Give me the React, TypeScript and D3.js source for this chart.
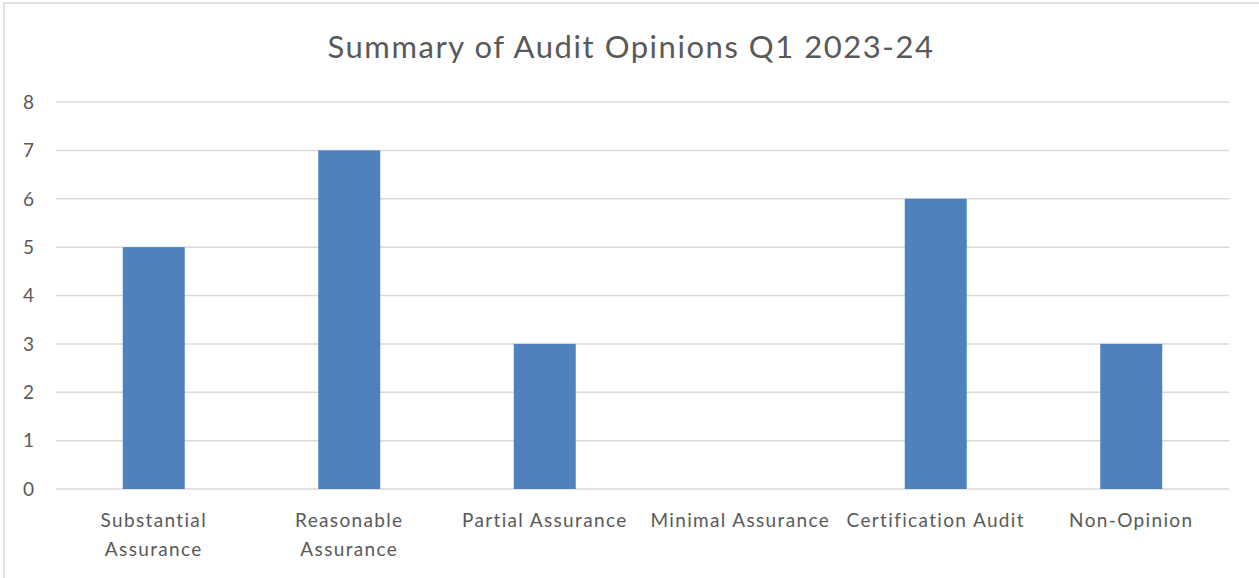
import React, { useEffect, useRef } from "react";
import * as d3 from "d3";

const categories = [
  "Substantial Assurance",
  "Reasonable Assurance",
  "Partial Assurance",
  "Minimal Assurance",
  "Certification Audit",
  "Non-Opinion",
];
const counts = [5, 7, 3, 0, 6, 3];
const yTicks = [0, 1, 2, 3, 4, 5, 6, 7, 8];
const chartTitle = "Summary of Audit Opinions Q1 2023-24";

// wrap long labels into lines that fit the band (Excel style)
const labelLines: Record<string, string[]> = {
  "Substantial Assurance": ["Substantial", "Assurance"],
  "Reasonable Assurance": ["Reasonable", "Assurance"],
};

const App = () => {
  const ref = useRef<SVGSVGElement>(null);

  useEffect(() => {
    const width = 1259, height = 578;
    const margin = { left: 56, right: 30, top: 102, bottom: 89 };
    const font = "Lato, 'Open Sans', sans-serif";
    const textColor = "#595959";

    const svg = d3.select(ref.current);
    svg.selectAll("*").remove();
    svg.attr("width", width).attr("height", height);

    svg.append("rect")
      .attr("x", 4).attr("y", 3)
      .attr("width", width + 20).attr("height", height + 20)
      .attr("fill", "white")
      .attr("stroke", "#d9d9d9")
      .attr("stroke-width", 1.5);

    const x = d3.scaleBand()
      .domain(categories)
      .range([margin.left, width - margin.right])
      .paddingInner(0.683)
      .paddingOuter(0.3415);

    const y = d3.scaleLinear()
      .domain([0, 8])
      .range([height - margin.bottom, margin.top]);

    // gridlines
    svg.append("g")
      .selectAll("line")
      .data(yTicks)
      .enter()
      .append("line")
      .attr("x1", margin.left)
      .attr("x2", width - margin.right)
      .attr("y1", d => y(d))
      .attr("y2", d => y(d))
      .attr("stroke", "#d9d9d9")
      .attr("stroke-width", 1.5);

    // y tick labels
    svg.append("g")
      .selectAll("text")
      .data(yTicks)
      .enter()
      .append("text")
      .attr("x", 34)
      .attr("y", d => y(d))
      .attr("dy", "0.36em")
      .attr("text-anchor", "end")
      .attr("font-family", font)
      .attr("font-size", 19)
      .attr("fill", textColor)
      .text(d => d);

    // bars
    svg.append("g")
      .selectAll("rect")
      .data(counts)
      .enter()
      .append("rect")
      .attr("x", (d, i) => x(categories[i]))
      .attr("y", d => y(d))
      .attr("width", x.bandwidth())
      .attr("height", d => y(0) - y(d))
      .attr("fill", "#4f81bd");

    // category labels
    const labels = svg.append("g")
      .selectAll("text")
      .data(categories)
      .enter()
      .append("text")
      .attr("x", d => x(d) + x.bandwidth() / 2)
      .attr("y", 527)
      .attr("text-anchor", "middle")
      .attr("font-family", font)
      .attr("font-size", 19)
      .attr("letter-spacing", 1.35)
      .attr("fill", textColor);

    labels.selectAll("tspan")
      .data(d => labelLines[d] || [d])
      .enter()
      .append("tspan")
      .attr("x", function () {
        return (this.parentNode as SVGTextElement).getAttribute("x");
      })
      .attr("dy", (d, i) => (i === 0 ? 0 : 28.5))
      .text(d => d);

    svg.append("text")
      .attr("x", 631)
      .attr("y", 58)
      .attr("text-anchor", "middle")
      .attr("font-family", font)
      .attr("font-size", 31)
      .attr("letter-spacing", 1.55)
      .attr("fill", textColor)
      .text(chartTitle);
  }, []);

  return (
    <div style={{ position: "absolute", left: 0, top: 0 }}>
      <svg ref={ref} style={{ display: "block" }} />
    </div>
  );
};

export default App;
